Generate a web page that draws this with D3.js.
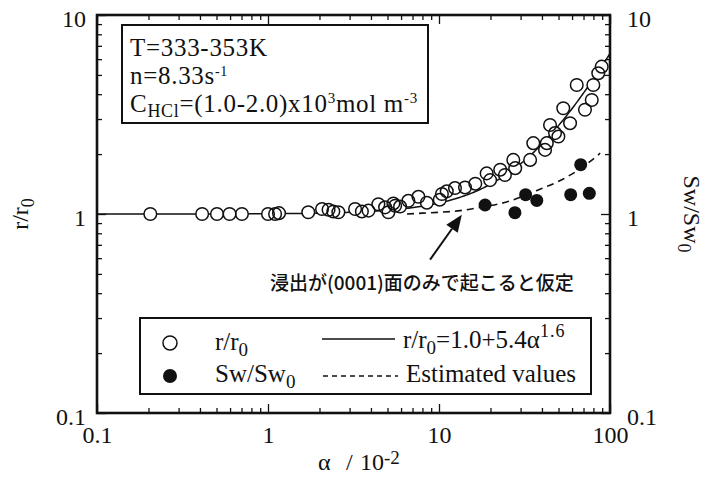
<!DOCTYPE html>
<html>
<head>
<meta charset="utf-8">
<script src="https://cdn.jsdelivr.net/npm/d3@7/dist/d3.min.js"></script>
<style>
  html, body { margin: 0; padding: 0; background: #fff; }
  svg { display: block; }
  text { fill: #111; }
</style>
</head>
<body>
<svg id="chart" width="708" height="482"></svg>
<script>
// Dimensionless dissolution rate r/r0 against conversion α (in units of 10^-2)
const rAlpha = [0.205, 0.412, 0.503, 0.596, 0.704, 1.0, 1.10, 1.16, 1.72, 2.07, 2.26, 2.41, 2.58,
  3.23, 3.54, 3.87, 4.42, 4.84, 5.06, 5.54, 5.41, 5.92, 6.62, 7.58, 8.49, 10.4, 10.1, 11.1,
  12.4, 14.2, 16.3, 19.0, 19.9, 22.8, 24.3, 27.2, 27.9, 34.1, 35.6, 41.7, 42.7, 44.6, 47.7,
  49.9, 53.3, 58.4, 63.9, 71.4, 78.2, 79.9, 85.4, 89.4];
const rRatio = [1.0, 1.0, 1.0, 1.0, 1.0, 1.0, 1.0, 1.01, 1.02, 1.06, 1.05, 1.03, 1.02,
  1.06, 1.03, 1.04, 1.12, 1.08, 1.02, 1.10, 1.13, 1.09, 1.165, 1.22, 1.14, 1.26, 1.18, 1.30,
  1.35, 1.36, 1.42, 1.60, 1.48, 1.67, 1.57, 1.87, 1.70, 1.87, 2.27, 2.10, 2.27, 2.80, 2.55,
  2.45, 3.40, 2.86, 4.45, 3.34, 3.74, 4.45, 5.10, 5.50];

// Specific surface area ratio Sw/Sw0
const swAlpha = [18.6, 27.8, 32.1, 37.3, 58.9, 67.4, 75.7];
const swRatio = [1.11, 1.015, 1.25, 1.17, 1.25, 1.77, 1.27];

// Estimated Sw/Sw0 curve (leaching on the (0001) face only)
const estAlpha = [6.5, 8.0, 10.0, 13.3, 17.4, 24.9, 37.1, 53.3, 69.8, 87.6];
const estRatio = [1.0, 1.01, 1.02, 1.04, 1.08, 1.15, 1.31, 1.50, 1.73, 2.02];

// Fitted correlation r/r0 = 1.0 + 5.4 α^1.6 (α as a fraction)
const fitA = 1.0, fitB = 5.4, fitN = 1.6;

const xMajor = [0.1, 1, 10, 100];
const yMajor = [0.1, 1, 10];
const xTickLabels = ["0.1", "1", "10", "100"];
const yTickLabels = ["0.1", "1", "10"];

const serif = "'Liberation Serif', 'Times New Roman', serif";
const svg = d3.select("#chart");

const L = 97, R = 610, T = 15, B = 413;
const x = d3.scaleLog().domain([0.1, 100]).range([L, R]);
const y = d3.scaleLog().domain([0.1, 10]).range([B, T]);

function minors(domain) {
  const out = [];
  for (let d = domain[0]; d < domain[1]; d *= 10)
    for (let k = 2; k <= 9; k++) out.push(+(d * k).toPrecision(3));
  return out;
}
const xMinor = minors([0.1, 100]);
const yMinor = minors([0.1, 10]);

// inward ticks on all four sides
function addAxis(gen, tr, vals, size, labels) {
  const g = svg.append("g").attr("transform", tr)
    .call(gen.tickValues(vals).tickSize(-size)
      .tickFormat(labels ? (d, i) => labels[i] : () => ""));
  g.select(".domain").remove();
  g.selectAll(".tick line").attr("stroke", "#111").attr("stroke-width", 1.3);
  g.selectAll("text").attr("font-family", serif).attr("font-size", 24).attr("fill", "#111");
  return g;
}
addAxis(d3.axisBottom(x), `translate(0,${B})`, xMinor, 5);
addAxis(d3.axisTop(x), `translate(0,${T})`, xMinor, 5);
addAxis(d3.axisLeft(y), `translate(${L},0)`, yMinor, 5);
addAxis(d3.axisRight(y), `translate(${R},0)`, yMinor, 5);

addAxis(d3.axisBottom(x).tickPadding(13), `translate(0,${B})`, xMajor, 9, xTickLabels);
addAxis(d3.axisTop(x), `translate(0,${T})`, xMajor, 9);
const gyl = addAxis(d3.axisLeft(y).tickPadding(11), `translate(${L},0)`, yMajor, 9, yTickLabels);
const gyr = addAxis(d3.axisRight(y).tickPadding(17), `translate(${R},0)`, yMajor, 9, yTickLabels);
gyl.selectAll("text").attr("dy", "0.47em");
gyr.selectAll("text").attr("dy", "0.47em");

// frame
svg.append("rect").attr("x", L).attr("y", T).attr("width", R - L).attr("height", B - T)
  .attr("fill", "none").attr("stroke", "#111").attr("stroke-width", 2.6);

const plot = svg.append("g");

// fitted correlation
const fitX = d3.range(0, 301).map(i => 0.1 * Math.pow(10, i / 100));
const line = d3.line().x(d => x(d[0])).y(d => y(d[1]));
plot.append("path")
  .datum(fitX.map(a => [a, fitA + fitB * Math.pow(a / 100, fitN)]))
  .attr("d", line).attr("fill", "none").attr("stroke", "#111").attr("stroke-width", 1.5);

// estimated curve
plot.append("path")
  .datum(estAlpha.map((a, i) => [a, estRatio[i]]))
  .attr("d", line.curve(d3.curveMonotoneX)).attr("fill", "none").attr("stroke", "#111")
  .attr("stroke-width", 1.6).attr("stroke-dasharray", "7,5");

// open circles: fills first, outlines on top so overlaps stay visible
const rData = rAlpha.map((a, i) => [a, rRatio[i]]);
plot.append("g").selectAll("circle").data(rData).join("circle")
  .attr("cx", d => x(d[0])).attr("cy", d => y(d[1])).attr("r", 6.3).attr("fill", "#fff");
plot.append("g").selectAll("circle").data(rData).join("circle")
  .attr("cx", d => x(d[0])).attr("cy", d => y(d[1])).attr("r", 6.3)
  .attr("fill", "none").attr("stroke", "#111").attr("stroke-width", 1.5);

// filled circles
plot.append("g").selectAll("circle").data(swAlpha.map((a, i) => [a, swRatio[i]])).join("circle")
  .attr("cx", d => x(d[0])).attr("cy", d => y(d[1])).attr("r", 6.5).attr("fill", "#111");

// arrow pointing at the estimated curve
const arrowTail = [8.87, 0.59], arrowTip = [13.6, 0.99];
const tx = x(arrowTail[0]), ty = y(arrowTail[1]), hx = x(arrowTip[0]), hy = y(arrowTip[1]);
const ang = Math.atan2(hy - ty, hx - tx);
const hl = 17, hw = 7;
const bx = hx - hl * Math.cos(ang), by = hy - hl * Math.sin(ang);
svg.append("line").attr("x1", tx).attr("y1", ty).attr("x2", bx).attr("y2", by)
  .attr("stroke", "#111").attr("stroke-width", 2);
svg.append("path")
  .attr("d", `M${hx},${hy}L${bx + hw * Math.sin(ang)},${by - hw * Math.cos(ang)}L${bx - hw * Math.sin(ang)},${by + hw * Math.cos(ang)}Z`)
  .attr("fill", "#111");
svg.append("text").attr("x", 270).attr("y", 290)
  .attr("font-family", "'Noto Sans CJK JP', sans-serif").attr("font-size", 19).attr("font-weight", 500)
  .text("浸出が(0001)面のみで起こると仮定");

// condition box
svg.append("rect").attr("x", 122).attr("y", 25).attr("width", 306).attr("height", 98)
  .attr("fill", "#fff").attr("stroke", "#111").attr("stroke-width", 2);
const cond = svg.append("g").attr("font-family", serif).attr("font-size", 25)
  .attr("letter-spacing", 0.7);
cond.append("text").attr("x", 130).attr("y", 56).text("T=333-353K");
const t2 = cond.append("text").attr("x", 130).attr("y", 84);
t2.append("tspan").text("n=8.33s");
t2.append("tspan").attr("dy", -8).attr("font-size", 14).text("-1");
const t3 = cond.append("text").attr("x", 130).attr("y", 112);
t3.append("tspan").text("C");
t3.append("tspan").attr("dy", 5).attr("font-size", 18).text("HCl");
t3.append("tspan").attr("dy", -5).text("=(1.0-2.0)x10");
t3.append("tspan").attr("dy", -9).attr("font-size", 15).text("3");
t3.append("tspan").attr("dy", 9).text("mol m");
t3.append("tspan").attr("dy", -9).attr("font-size", 15).text("-3");

// legend
svg.append("rect").attr("x", 140).attr("y", 318).attr("width", 451).attr("height", 76)
  .attr("fill", "#fff").attr("stroke", "#111").attr("stroke-width", 2);
const lg = svg.append("g").attr("font-family", serif).attr("font-size", 25);
lg.append("circle").attr("cx", 170).attr("cy", 343).attr("r", 7)
  .attr("fill", "#fff").attr("stroke", "#111").attr("stroke-width", 1.5);
lg.append("circle").attr("cx", 170).attr("cy", 376).attr("r", 7).attr("fill", "#111");
const l1 = lg.append("text").attr("x", 215).attr("y", 350);
l1.append("tspan").text("r/r");
l1.append("tspan").attr("dy", 6).attr("font-size", 19).text("0");
const l2 = lg.append("text").attr("x", 215).attr("y", 382);
l2.append("tspan").text("Sw/Sw");
l2.append("tspan").attr("dy", 6).attr("font-size", 19).text("0");
lg.append("line").attr("x1", 322).attr("x2", 395).attr("y1", 339).attr("y2", 339)
  .attr("stroke", "#111").attr("stroke-width", 1.5);
lg.append("line").attr("x1", 323).attr("x2", 398).attr("y1", 376).attr("y2", 376)
  .attr("stroke", "#111").attr("stroke-width", 1.5).attr("stroke-dasharray", "5,4");
const l3 = lg.append("text").attr("x", 403).attr("y", 348);
l3.append("tspan").text("r/r");
l3.append("tspan").attr("dy", 6).attr("font-size", 19).text("0");
l3.append("tspan").attr("dy", -6).text("=1.0+5.4α");
l3.append("tspan").attr("dy", -11).attr("font-size", 18).attr("letter-spacing", 1).text("1.6");
lg.append("text").attr("x", 406).attr("y", 382).text("Estimated values");

// axis titles
const xt = svg.append("g").attr("font-family", serif).attr("font-size", 24);
xt.append("text").attr("x", 318).attr("y", 470).text("α");
xt.append("text").attr("x", 346).attr("y", 470).text("/");
const xt10 = xt.append("text").attr("x", 360).attr("y", 470);
xt10.append("tspan").text("10");
xt10.append("tspan").attr("dy", -6).attr("font-size", 19).text("-2");

const yl = svg.append("text").attr("transform", `translate(28,${(T + B) / 2}) rotate(-90)`)
  .attr("text-anchor", "middle").attr("font-family", serif).attr("font-size", 24);
yl.append("tspan").text("r/r");
yl.append("tspan").attr("dy", 6).attr("font-size", 18).text("0");

const yr = svg.append("text").attr("transform", `translate(684,${(T + B) / 2}) rotate(90)`)
  .attr("text-anchor", "middle").attr("font-family", serif).attr("font-size", 24);
yr.append("tspan").text("Sw/Sw");
yr.append("tspan").attr("dy", 6).attr("font-size", 18).text("0");
</script>
</body>
</html>
